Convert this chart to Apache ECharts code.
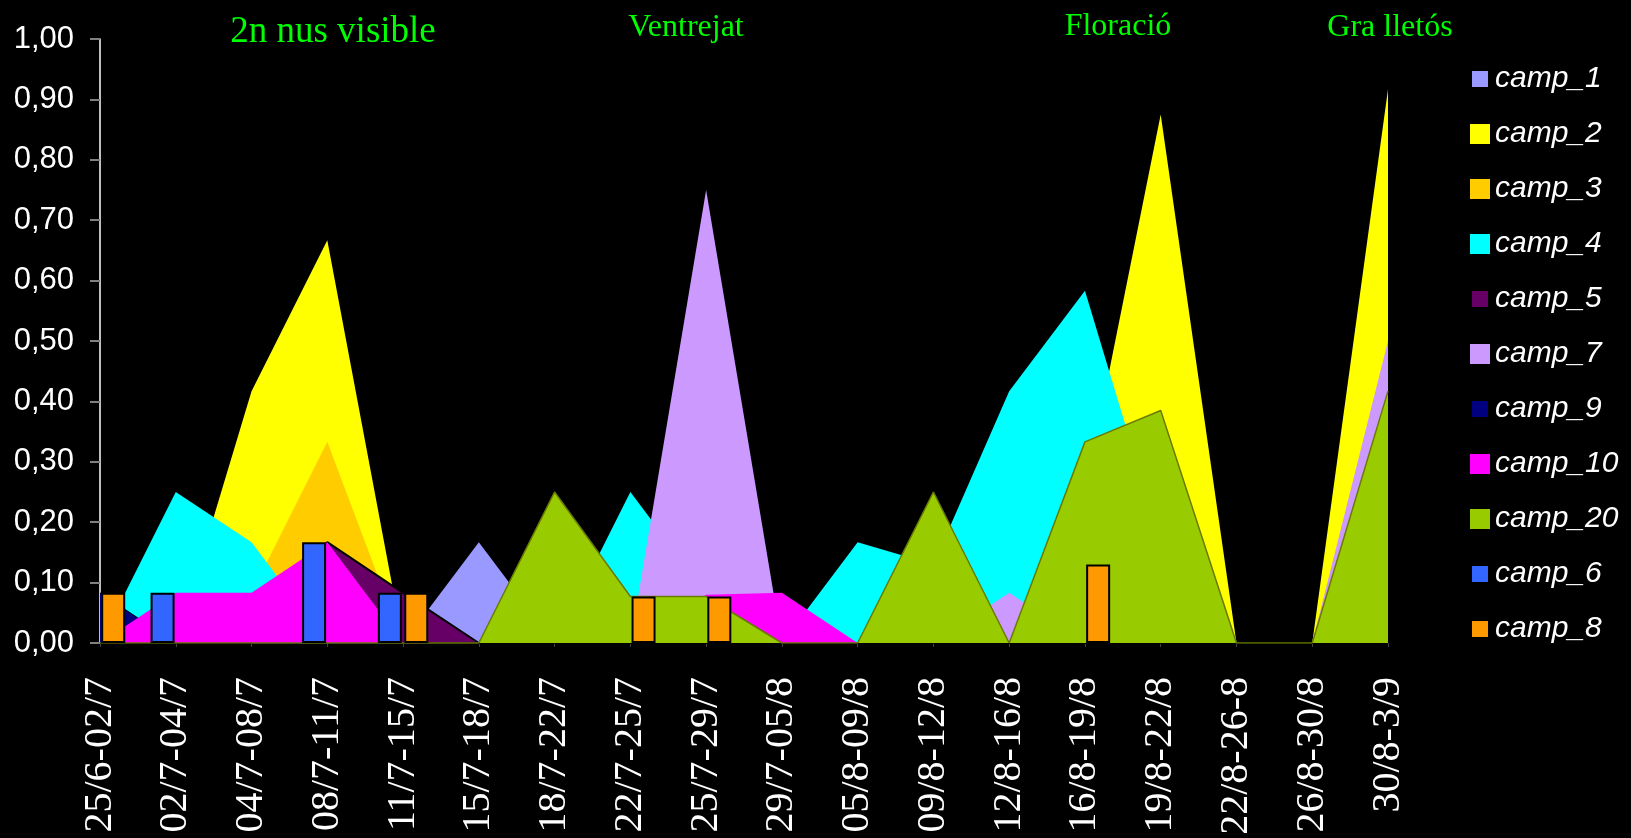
<!DOCTYPE html>
<html>
<head>
<meta charset="utf-8">
<script src="https://cdn.jsdelivr.net/npm/echarts@6/dist/echarts.min.js"></script>
<style>
  html, body { margin: 0; padding: 0; background: #000; }
  #main { width: 1631px; height: 838px; }
</style>
</head>
<body>
<div id="main"></div>
<script>
var categories = ['25/6-02/7', '02/7-04/7', '04/7-08/7', '08/7-11/7', '11/7-15/7', '15/7-18/7',
    '18/7-22/7', '22/7-25/7', '25/7-29/7', '29/7-05/8', '05/8-09/8', '09/8-12/8',
    '12/8-16/8', '16/8-19/8', '19/8-22/8', '22/8-26-8', '26/8-30/8', '30/8-3/9'];

// area series (drawn in this order, later ones on top)
var camp_1  = [0, 0, 0, 0, 0, 0.167, 0, 0, 0, 0, 0, 0, 0, 0, 0, 0, 0, 0];
var camp_2  = [0, 0, 0.417, 0.667, 0, 0, 0, 0, 0, 0, 0, 0, 0, 0.25, 0.875, 0, 0, 0.917];
var camp_3  = [0, 0, 0.083, 0.333, 0, 0, 0, 0, 0, 0, 0, 0, 0, 0, 0, 0, 0, 0];
var camp_4  = [0, 0.25, 0.167, 0, 0, 0, 0, 0.25, 0.083, 0, 0.167, 0.13, 0.417, 0.583, 0.167, 0, 0, 0];
var camp_5  = [0, 0, 0, 0.167, 0.083, 0, 0, 0, 0, 0, 0, 0, 0, 0, 0, 0, 0, 0];
var camp_7  = [0, 0, 0, 0, 0, 0, 0, 0, 0.75, 0, 0, 0, 0.083, 0, 0, 0, 0, 0.5];
var camp_9  = [0.083, 0, 0, 0, 0, 0, 0, 0, 0, 0, 0, 0, 0, 0, 0, 0, 0, 0];
var camp_10 = [0, 0.083, 0.083, 0.167, 0, 0, 0, 0, 0.08, 0.083, 0, 0, 0, 0, 0, 0, 0, 0];
var camp_20 = [0, 0, 0, 0, 0, 0, 0.25, 0.077, 0.077, 0, 0, 0.25, 0, 0.333, 0.385, 0, 0, 0.417];

// column series
var camp_6 = [null, 0.083, null, 0.167, 0.083, null, null, null, null, null, null, null, null, null, null, null, null, null];
var camp_8 = [0.083, null, null, null, 0.083, null, null, 0.077, 0.077, null, null, null, null, 0.13, null, null, null, null];

var yTicks = [0, 0.1, 0.2, 0.3, 0.4, 0.5, 0.6, 0.7, 0.8, 0.9, 1.0];

var phases = [
    { text: '2n nus visible', x: 333, y: 51, size: 37 },
    { text: 'Ventrejat', x: 686, y: 44, size: 32 },
    { text: 'Floració', x: 1118, y: 43, size: 32 },
    { text: 'Gra lletós', x: 1390, y: 44, size: 32 }
];

var myChart = echarts.init(document.getElementById('main'));

var zNext = 2;
function area(name, data, color, line) {
    return {
        name: name,
        type: 'line',
        z: zNext++,
        data: data,
        symbol: 'none',
        color: color,
        lineStyle: line || { width: 0, color: color },
        areaStyle: { color: color, opacity: 1 },
        emphasis: { disabled: true }
    };
}

function column(name, data, color) {
    return {
        name: name,
        type: 'bar',
        z: 30,
        data: data,
        color: color,
        barWidth: 24,
        barGap: '10%',
        itemStyle: { color: color, borderColor: '#000', borderWidth: 2 },
        emphasis: { disabled: true }
    };
}

var small = { borderColor: '#000', borderWidth: 4 };

var option = {
    backgroundColor: '#000',
    animation: false,
    grid: { left: 100, right: 243, top: 39, bottom: 195 },
    legend: {
        orient: 'vertical',
        left: 1463,
        top: 58,
        itemWidth: 20,
        itemHeight: 20,
        itemGap: 23,
        icon: 'rect',
        textStyle: {
            color: '#fff', fontSize: 30, fontStyle: 'italic',
            fontFamily: 'Liberation Sans, Arial, sans-serif', lineHeight: 32
        },
        data: [
            { name: 'camp_1', itemStyle: small },
            { name: 'camp_2' },
            { name: 'camp_3' },
            { name: 'camp_4' },
            { name: 'camp_5', itemStyle: small },
            { name: 'camp_7' },
            { name: 'camp_9', itemStyle: small },
            { name: 'camp_10' },
            { name: 'camp_20' },
            { name: 'camp_6', itemStyle: small },
            { name: 'camp_8', itemStyle: small }
        ]
    },
    xAxis: {
        type: 'category',
        data: categories,
        boundaryGap: false,
        axisLine: { lineStyle: { color: '#333', width: 1 } },
        axisTick: { show: true, length: 4, lineStyle: { color: '#444' } },
        axisLabel: {
            interval: 0, rotate: 90, margin: 34,
            color: '#fff', fontSize: 40,
            fontFamily: 'Liberation Serif, Times New Roman, serif'
        },
        splitLine: { show: false }
    },
    yAxis: {
        type: 'value',
        min: yTicks[0],
        max: yTicks[yTicks.length - 1],
        interval: 0.1,
        axisLine: { show: true, lineStyle: { color: '#fff', width: 1.5 } },
        axisTick: { show: true, length: 10, lineStyle: { color: '#808080', width: 2 } },
        axisLabel: {
            margin: 26, color: '#fff', fontSize: 31,
            fontFamily: 'Liberation Sans, Arial, sans-serif',
            formatter: function (v) { return v.toFixed(2).replace('.', ','); }
        },
        splitLine: { show: false }
    },
    graphic: phases.map(function (p) {
        return {
            type: 'text',
            x: p.x, y: p.y,
            style: {
                text: p.text, fill: '#00ff00', fontSize: p.size,
                fontFamily: 'Liberation Serif, Times New Roman, serif',
                align: 'center', verticalAlign: 'bottom'
            }
        };
    }),
    series: [
        area('camp_1', camp_1, '#9999ff'),
        area('camp_2', camp_2, '#ffff00'),
        area('camp_3', camp_3, '#ffcc00'),
        area('camp_4', camp_4, '#00ffff'),
        area('camp_5', camp_5, '#660066', { width: 2, color: '#000' }),
        area('camp_7', camp_7, '#cc99ff'),
        area('camp_9', camp_9, '#000080', { width: 1, color: '#000' }),
        area('camp_10', camp_10, '#ff00ff'),
        area('camp_20', camp_20, '#99cc00', { width: 1.5, color: '#6b7a00' }),
        column('camp_6', camp_6, '#3366ff'),
        column('camp_8', camp_8, '#ff9900')
    ]
};

myChart.setOption(option);
</script>
</body>
</html>
